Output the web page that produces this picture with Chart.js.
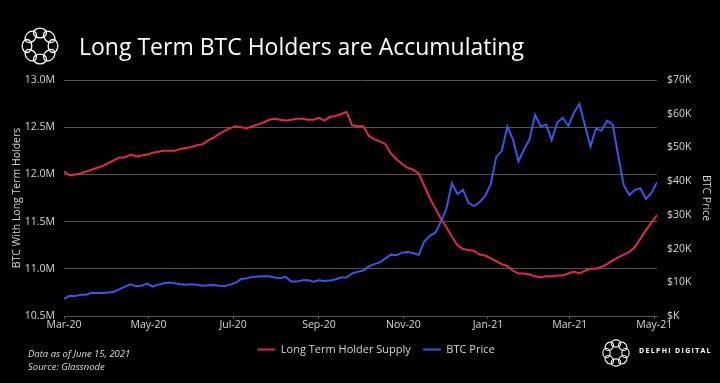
<!DOCTYPE html>
<html>
<head>
<meta charset="utf-8">
<script src="https://cdn.jsdelivr.net/npm/chart.js@4.4.0/dist/chart.umd.min.js"></script>
<style>
html,body{margin:0;padding:0;background:#000;}
#wrap{position:relative;width:720px;height:383px;background:#000;overflow:hidden;font-family:'Open Sans',sans-serif;}
#c{position:absolute;left:0;top:0;}
#title{position:absolute;left:79px;top:31px;color:#fff;font-size:23px;line-height:30px;white-space:nowrap;}
#note{position:absolute;left:28px;top:347px;color:#ddd;font-size:9.5px;font-style:italic;line-height:13px;white-space:nowrap;}
#brand{position:absolute;left:639px;top:346px;color:#fff;font-size:7px;letter-spacing:1.3px;font-weight:700;white-space:nowrap;}
</style>
</head>
<body>
<div id="wrap">
<canvas id="c" width="720" height="383"></canvas>
<div id="title">Long Term BTC Holders are Accumulating</div>
<div id="note">Data as of June 15, 2021<br>Source: Glassnode</div>
<div id="brand">DELPHI DIGITAL</div>
</div>
<script>
// ---- data ----
// one sample every 4 days, starting Mar-20
const dayStep = 4;
const lthSupplyM = [
  12.03, 11.99, 12.00, 12.01, 12.03, 12.05, 12.07, 12.09, 12.12, 12.15,
  12.18, 12.18, 12.21, 12.19, 12.20, 12.21, 12.23, 12.24, 12.25, 12.25,
  12.25, 12.27, 12.28, 12.29, 12.31, 12.32, 12.36, 12.39, 12.43, 12.46,
  12.49, 12.51, 12.50, 12.49, 12.51, 12.53, 12.55, 12.58, 12.59, 12.58,
  12.57, 12.58, 12.59, 12.59, 12.58, 12.58, 12.60, 12.57, 12.61, 12.62,
  12.64, 12.66, 12.52, 12.51, 12.51, 12.41, 12.37, 12.35, 12.32, 12.22,
  12.16, 12.11, 12.07, 12.05, 12.01, 11.88, 11.75, 11.64, 11.53, 11.44,
  11.34, 11.25, 11.21, 11.20, 11.19, 11.15, 11.14, 11.11, 11.08, 11.05,
  11.03, 10.98, 10.95, 10.95, 10.94, 10.92, 10.91, 10.92, 10.92, 10.93,
  10.93, 10.95, 10.97, 10.95, 10.98, 11.00, 11.00, 11.02, 11.05, 11.09,
  11.12, 11.15, 11.18, 11.23, 11.32, 11.41, 11.49, 11.57
];
const btcPriceK = [
  5.1, 6.0, 5.9, 6.3, 6.3, 6.9, 6.8, 6.8, 7.0, 7.2,
  7.9, 8.7, 9.4, 8.8, 9.0, 9.6, 8.7, 9.3, 9.7, 9.9,
  9.7, 9.4, 9.3, 9.4, 9.3, 9.0, 9.1, 9.2, 9.0, 8.9,
  9.3, 9.9, 11.0, 11.2, 11.6, 11.7, 11.8, 11.8, 11.4, 11.2,
  11.6, 10.2, 10.2, 10.6, 10.7, 10.2, 10.6, 10.4, 10.5, 10.9,
  11.4, 11.4, 12.6, 13.1, 13.5, 14.7, 15.4, 15.9, 17.1, 18.2,
  18.0, 18.8, 19.0, 18.7, 18.1, 22.1, 23.8, 24.7, 27.9, 31.8,
  39.4, 36.2, 37.4, 33.5, 32.6, 33.8, 35.6, 39.1, 47.2, 49.0,
  56.2, 52.4, 45.9, 49.4, 52.4, 59.7, 56.2, 56.8, 52.1, 57.4,
  58.8, 56.3, 60.3, 62.9, 56.5, 50.3, 55.6, 55.0, 57.9, 56.8,
  47.6, 38.8, 35.9, 37.4, 37.9, 34.7, 36.5, 39.7
];
const xTickDays = [0, 61, 122, 184, 245, 306, 365, 426];
const xTickLabels = ['Mar-20', 'May-20', 'Jul-20', 'Sep-20', 'Nov-20', 'Jan-21', 'Mar-21', 'May-21'];
const seriesNames = ['Long Term Holder Supply', 'BTC Price'];

// ---- styling ----
const RED = '#e2294b';
const BLUE = '#3558e6';
const TXT = '#d6d6d6';
const FONT = "'Open Sans', sans-serif";
const GRID = '#555555';

const sampleDays = lthSupplyM.map((_, i) => i * dayStep);

function drawLogo(ctx, cx, cy, R, a, b, lw) {
  ctx.save();
  ctx.strokeStyle = '#ffffff';
  ctx.lineWidth = lw;
  for (let k = 0; k < 8; k++) {
    const th = k * Math.PI / 4;
    ctx.beginPath();
    ctx.ellipse(cx + R * Math.cos(th), cy + R * Math.sin(th), a, b, th + Math.PI / 2, 0, Math.PI * 2);
    ctx.stroke();
  }
  ctx.restore();
}

const logoPlugin = {
  id: 'logos',
  beforeDraw(chart) {
    // legend sits a little right of the page centre in the reference
    const lg = chart.legend;
    if (lg) { lg.left = 16; lg.right = 736; }
  },
  afterDraw(chart) {
    const ctx = chart.ctx;
    drawLogo(ctx, 40, 46, 13, 6.5, 4.8, 1.3);
    drawLogo(ctx, 616, 353, 9.5, 4.8, 3.6, 1.1);
  }
};

new Chart(document.getElementById('c'), {
  type: 'line',
  data: {
    datasets: [
      {
        label: seriesNames[0],
        data: sampleDays.map((d, i) => ({x: d, y: lthSupplyM[i]})),
        yAxisID: 'y',
        borderColor: RED, backgroundColor: RED,
        borderWidth: 2, pointRadius: 0, tension: 0
      },
      {
        label: seriesNames[1],
        data: sampleDays.map((d, i) => ({x: d, y: btcPriceK[i]})),
        yAxisID: 'y1',
        borderColor: BLUE, backgroundColor: BLUE,
        borderWidth: 2, pointRadius: 0, tension: 0
      }
    ]
  },
  options: {
    responsive: false,
    animation: false,
    layout: {padding: {left: 0, right: 0, top: 80, bottom: 18}},
    plugins: {
      title: {display: false},
      tooltip: {enabled: false},
      legend: {
        position: 'bottom',
        labels: {
          color: TXT, font: {family: FONT, size: 11},
          usePointStyle: true, pointStyle: 'line', pointStyleWidth: 18,
          padding: 12
        }
      }
    },
    scales: {
      x: {
        type: 'linear', min: 0, max: 428,
        afterBuildTicks: s => { s.ticks = xTickDays.map(v => ({value: v})); },
        ticks: {
          callback: (v, i) => xTickLabels[i],
          color: TXT, font: {family: FONT, size: 10.5},
          padding: 0, maxRotation: 0, autoSkip: false
        },
        grid: {drawOnChartArea: false, drawTicks: true, tickLength: 3, color: GRID},
        border: {display: true, color: GRID},
        afterFit: s => { s.height = 16; }
      },
      y: {
        position: 'left', min: 10.5, max: 13.0,
        ticks: {stepSize: 0.5, callback: v => v.toFixed(1) + 'M', padding: 9, color: TXT, font: {family: FONT, size: 10.5}},
        grid: {color: GRID, drawTicks: false},
        border: {display: false},
        title: {display: true, text: 'BTC With Long Term Holders', color: TXT, font: {family: FONT, size: 10.5}, padding: {top: 11, bottom: 0}},
        afterFit: s => { s.width = 64; }
      },
      y1: {
        position: 'right', min: 0, max: 70,
        ticks: {stepSize: 10, callback: v => '$' + (v === 0 ? '' : v) + 'K', padding: 10, color: TXT, font: {family: FONT, size: 10.5}},
        grid: {drawOnChartArea: false, drawTicks: false},
        border: {display: false},
        title: {display: true, text: 'BTC Price', color: TXT, font: {family: FONT, size: 10.5}, padding: {top: 8, bottom: 0}},
        afterFit: s => { s.width = 63; }
      }
    }
  },
  plugins: [logoPlugin]
});
</script>
</body>
</html>
